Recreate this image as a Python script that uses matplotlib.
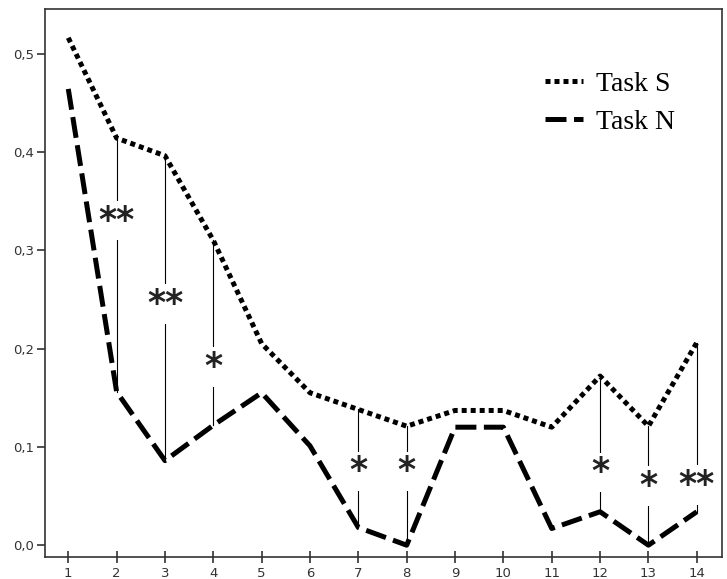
import numpy as np
import matplotlib.pyplot as plt

# mean scores per position for the two tasks
positions = list(range(1, 15))
task_s = [0.516, 0.414, 0.396, 0.310, 0.205, 0.155, 0.138, 0.121, 0.137, 0.137, 0.120, 0.172, 0.121, 0.206]
task_n = [0.464, 0.156, 0.086, 0.122, 0.155, 0.101, 0.018, 0.000, 0.120, 0.120, 0.017, 0.034, 0.000, 0.034]

# significance marks: position, label, height of the label
sig_pos = [2, 3, 4, 7, 8, 12, 13, 14]
sig_text = ['**', '**', '*', '*', '*', '*', '*', '**']
sig_y = [0.330, 0.245, 0.181, 0.075, 0.075, 0.074, 0.060, 0.061]

y_ticks = [0.0, 0.1, 0.2, 0.3, 0.4, 0.5]

fig = plt.figure(figsize=(7.27, 5.79), dpi=100)
ax = fig.add_axes([0.062, 0.038, 0.931, 0.946])

# thin connectors between the two curves where the difference is significant
for p in sig_pos:
    i = positions.index(p)
    ax.plot([p, p], [task_n[i], task_s[i]], color='black', lw=0.8, zorder=1)

ax.plot(positions, task_s, color='black', lw=3.6, linestyle=(0, (1, 0.8)),
        dash_capstyle='butt', label='Task S', zorder=3)
ax.plot(positions, task_n, color='black', lw=3.6, linestyle=(0, (4.2, 1.5)),
        dash_capstyle='butt', label='Task N', zorder=3)

for p, t, y in zip(sig_pos, sig_text, sig_y):
    ax.text(p, y, t, ha='center', va='center', fontsize=25, fontweight='bold',
            color='#222222',
            bbox=dict(facecolor='white', edgecolor='none', pad=2), zorder=2)

ax.set_xlim(0.52, 14.52)
ax.set_ylim(-0.012, 0.545)
ax.set_xticks(positions)
ax.set_yticks(y_ticks)
ax.set_yticklabels([f'{v:.1f}'.replace('.', ',') for v in y_ticks])

for s in ax.spines.values():
    s.set_linewidth(1.2)
    s.set_color('#333333')
ax.tick_params(axis='x', direction='inout', length=8, width=1.2, colors='#333333',
               labelsize=9.5, pad=3)
ax.tick_params(axis='y', direction='out', length=6, width=1.2, colors='#333333',
               labelsize=9.5, pad=2)

leg = ax.legend(loc='center left', bbox_to_anchor=(0.738, 0.829), frameon=False,
                borderpad=0, borderaxespad=0,
                handlelength=1.4, handletextpad=0.45, labelspacing=0.45,
                prop={'family': 'Liberation Serif', 'size': 20})

fig.savefig('out.png', dpi=100)
